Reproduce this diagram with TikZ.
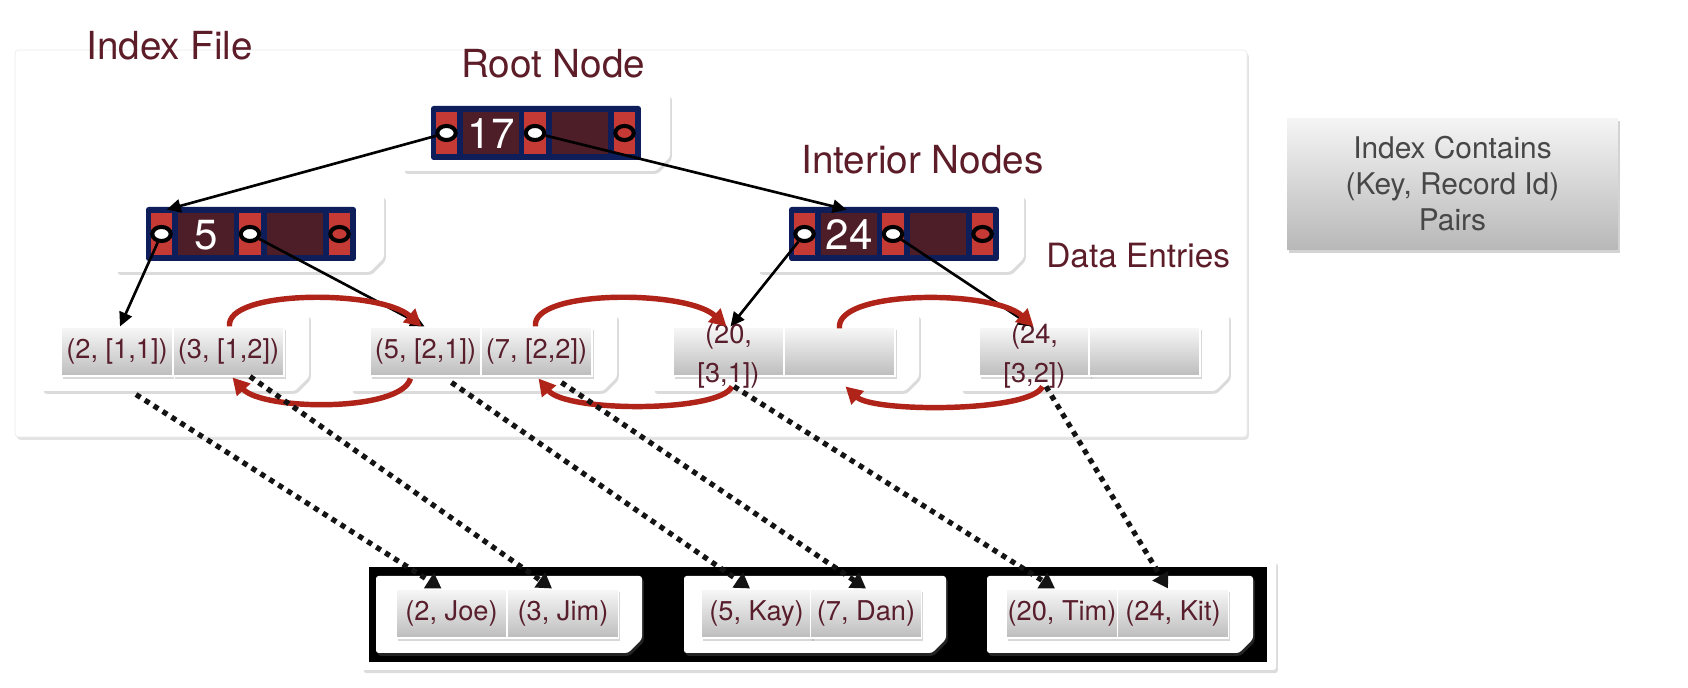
\documentclass[tikz,border=0pt]{standalone}
\usepackage{fontspec}
\setmainfont{TeX Gyre Heros}
\usetikzlibrary{arrows.meta,shapes.geometric,shadows,calc}
\definecolor{navy}{RGB}{14,30,90}
\definecolor{slotred}{RGB}{197,58,52}
\definecolor{keybg}{RGB}{77,30,40}
\definecolor{labelc}{RGB}{92,28,40}
\definecolor{entryc}{RGB}{88,30,44}
\definecolor{arrowred}{RGB}{175,35,25}
\newcommand\snipcard[4]{%
  \path[card] (#1,#2) -- (#3,#2) -- (#3,#4-14) -- (#3-14,#4) -- (#1,#4) -- cycle;}
\newcommand\treenode[4]{%
  \node[bar] (#4) at (#1+105,#2+27) {};
  \begin{scope}[shift={(#1,#2)}]
    \fill[slotred] (5,6) rectangle (26,48);
    \fill[keybg] (32,6) rectangle (88,48);
    \fill[slotred] (93,6) rectangle (115,48);
    \fill[keybg] (121,6) rectangle (177,48);
    \fill[slotred] (183,6) rectangle (204,48);
    \node[keytext] (#4k) at (60,28) {#3};
    \node[hole] (#4p1) at (15.5,27) {};
    \node[hole] (#4p2) at (104,27) {};
    \node[hole, fill=slotred] (#4p3) at (193.5,27) {};
  \end{scope}}
\begin{document}
\begin{tikzpicture}[x=0.02cm,y=-0.02cm,
  card/.style={fill=white, rounded corners=1.5pt,
    drop shadow={shadow xshift=1pt, shadow yshift=-1.6pt, opacity=0.28}},
  bar/.style={rectangle, fill=navy, rounded corners=1.5pt, minimum width=4.2cm,
    minimum height=1.08cm, inner sep=0},
  keytext/.style={text=white, font=\fontsize{24}{28}\selectfont, inner sep=0},
  hole/.style={ellipse, draw=black, fill=white, line width=2.3pt,
    minimum width=10.5pt, minimum height=8pt, inner sep=0},
  entry/.style={rectangle, minimum width=2.22cm, minimum height=0.98cm, inner sep=0,
    top color=black!3, bottom color=black!26, draw=white, line width=0.6pt,
    drop shadow={shadow xshift=1pt, shadow yshift=-1.6pt, opacity=0.3},
    font=\fontsize{15.5}{22}\selectfont, text=entryc},
  etext/.style={font=\fontsize{15.5}{22}\selectfont, text=entryc, align=center, inner sep=0},
  biglabel/.style={font=\fontsize{22}{26}\selectfont, text=labelc, inner sep=0},
  blk/.style={line width=1.5pt, -{Triangle[length=8pt,width=7.5pt]}},
  redarr/.style={arrowred, line width=3.1pt, -{Triangle[length=9.5pt,width=10pt]}},
  dotarr/.style={black!92, line width=3pt, dash pattern=on 3pt off 3pt,
    -{Triangle[length=8.5pt,width=10pt]}}]
\useasboundingbox (0,0) rectangle (1688,688);

% Index file container
\path[fill=white, draw=black!8, rounded corners=2pt,
  drop shadow={shadow xshift=1pt, shadow yshift=-1.6pt, opacity=0.22}]
  (15,50) rectangle (1247,437);
\node[biglabel, anchor=base west] (lblindex) at (86,60) {Index File};
\node[biglabel, anchor=base west] (lblroot) at (461,78) {Root Node};
\node[biglabel, anchor=base west] (lblint) at (801,174) {Interior Nodes};
\node[font=\fontsize{19}{23}\selectfont, text=labelc, inner sep=0, anchor=base west]
  (lbldata) at (1046,268) {Data Entries};

% interior node cards
\snipcard{403}{94}{670}{171}
\snipcard{116}{195}{384}{272}
\snipcard{758}{195}{1024}{272}
\treenode{431}{106}{17}{root}
\treenode{146}{207}{5}{nfive}
\treenode{789}{207}{24}{ntf}

% leaf cards
\snipcard{42}{314}{309}{391}
\snipcard{351}{314}{617}{391}
\snipcard{653}{314}{919}{391}
\snipcard{961}{314}{1229}{391}
\node[entry] (L1a) at (117,351.5) {(2, [1,1])};
\node[entry] (L1b) at (228.5,351.5) {(3, [1,2])};
\node[entry] (L2a) at (425.5,351.5) {(5, [2,1])};
\node[entry] (L2b) at (536.5,351.5) {(7, [2,2])};
\node[entry] (L3a) at (728.5,351.5) {};
\node[entry] (L3b) at (839.5,351.5) {};
\node[entry] (L4a) at (1034.5,351.5) {};
\node[entry] (L4b) at (1144.5,351.5) {};
\node[etext] (L3t) at (728.5,356) {(20,\\{[3,1])}};
\node[etext] (L4t) at (1034.5,356) {(24,\\{[3,2])}};

% right info box
\node[rectangle, minimum width=6.62cm, minimum height=2.64cm, inner sep=0,
  top color=black!4, bottom color=black!28,
  drop shadow={shadow xshift=1pt, shadow yshift=-1.8pt, opacity=0.35},
  font=\fontsize{17}{20.5}\selectfont, text=black!72, align=center]
  (info) at (1452.5,184) {Index Contains\\(Key, Record Id)\\Pairs};

% data page
\path[fill=white, rounded corners=1.5pt,
  drop shadow={shadow xshift=1pt, shadow yshift=-1.8pt, opacity=0.28}]
  (362,560) rectangle (1276,670);
\fill[black] (369,567) rectangle (1267,662);
\snipcard{376}{576}{642}{653}
\snipcard{684}{576}{946}{653}
\snipcard{987}{576}{1253}{653}
\node[entry] (P1a) at (451.5,613.5) {(2, Joe)};
\node[entry] (P1b) at (563,613.5) {(3, Jim)};
\node[entry] (P2a) at (756.5,613.5) {(5, Kay)};
\node[entry] (P2b) at (866,613.5) {(7, Dan)};
\node[entry] (P3a) at (1062,613.5) {(20, Tim)};
\node[entry] (P3b) at (1173,613.5) {(24, Kit)};

% tree pointers
\draw[blk] (rootp1) -- ($(nfive.north west)+(21,3)$);
\draw[blk] (rootp2) -- ($(ntf.north west)+(58,3)$);
\draw[blk] (nfivep1) -- ($(L1a.north)+(3,0)$);
\draw[blk] (nfivep2) -- ($(L2a.north)+(-1,0)$);
\draw[blk] (ntfp1) -- ($(L3a.north)+(2,0)$);
\draw[blk] (ntfp2) -- ($(L4a.north)+(-2,0)$);

% sibling pointers
\draw[redarr] ($(L1b.north)+(1,0)$) .. controls +(-4.5,-37) and +(-41.5,-37) .. ($(L2a.north)+(-4,0)$);
\draw[redarr] ($(L2a.south)+(-15,2)$) .. controls +(-10,34) and +(30,33) .. ($(L1b.south)+(4,1)$);
\draw[redarr] ($(L2b.north)+(-1,0)$) .. controls +(-5,-37) and +(-40,-37) .. ($(L3a.north)+(-2,0)$);
\draw[redarr] ($(L3a.south)+(3.5,10)$) .. controls +(-12,26) and +(28,34) .. ($(L2b.south)+(2,2)$);
\draw[redarr] ($(L3b.north)+(0,2)$) .. controls +(-5,-39) and +(-40,-37) .. ($(L4a.north)+(-1,0)$);
\draw[redarr] ($(L4a.south)+(8,10)$) .. controls +(-12,26) and +(28,26) .. ($(L3b.south)+(6,10)$);

% record pointers
\draw[dotarr] ($(L1a.south)+(19,18)$) -- ($(P1a.north)+(-10,0)$);
\draw[dotarr] ($(L1b.south)+(21.5,0)$) -- ($(P1b.north)+(-11,0)$);
\draw[dotarr] ($(L2a.south)+(26,6)$) -- ($(P2a.north)+(-6.5,0)$);
\draw[dotarr] ($(L2b.south)+(25,6)$) -- ($(P2b.north)+(0,0)$);
\draw[dotarr] ($(L3a.south)+(5.5,10)$) -- ($(P3a.north)+(-7,0)$);
\draw[dotarr] ($(L4a.south)+(11.5,10)$) -- ($(P3b.north)+(-5,0)$);
\end{tikzpicture}
\end{document}
